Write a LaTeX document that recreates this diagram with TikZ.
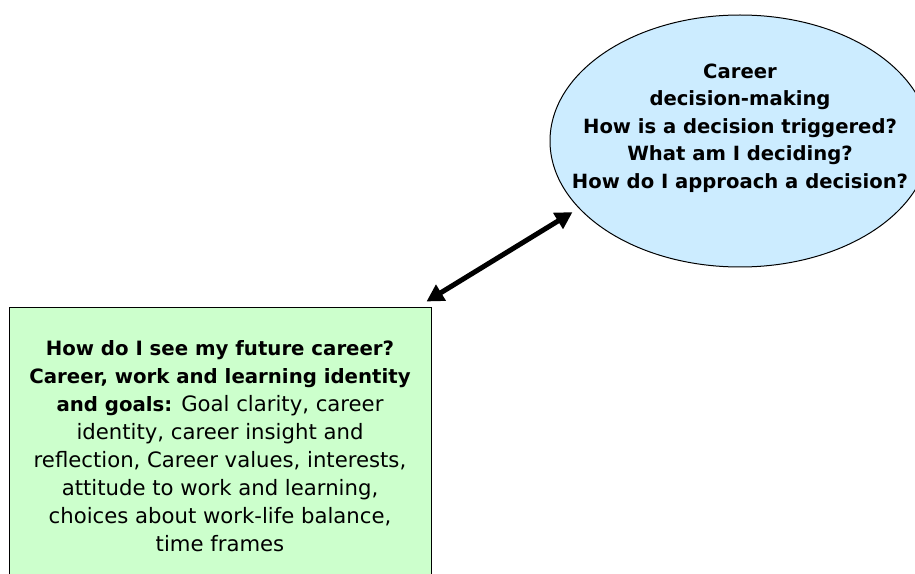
\documentclass[tikz,border=0pt]{standalone}
\usepackage{fontspec}
\setmainfont{DejaVu Sans}
\usetikzlibrary{shapes.geometric,arrows.meta}

\definecolor{decblue}{RGB}{204,236,255}
\definecolor{goalgreen}{RGB}{204,255,204}
\newcommand{\goalhead}[1]{{\bfseries\fontsize{14.8}{21}\selectfont #1}}
\tikzset{every picture/.style={line width=0.75pt}}

\begin{document}
\begin{tikzpicture}[x=0.75pt,y=0.75pt,yscale=-1,xscale=1]
	%set diagram left start at 0, and has height of 574
	\path[use as bounding box] (0,0) rectangle (915,574);
	
	%Shape: Ellipse [id:decision]
	\node[ellipse, draw, fill=decblue, minimum width=285pt, minimum height=189pt, inner sep=0pt] (dec) at (740,141) {};
	%Shape: Rectangle [id:goals]
	\node[draw, fill=goalgreen, minimum width=316.5pt, minimum height=207pt, inner sep=0pt] (goals) at (220,446) {};
	%Straight Lines [id:link]
	\draw[line width=3.75pt, {Triangle[length=12.75pt,width=13.5pt]}-{Triangle[length=12.75pt,width=13.5pt]}] ([shift={(-5,-6)}]goals.north east) -- ([shift={(-7,3)}]dec.203);
	
	% Text Node
	\node[align=center, font=\bfseries\fontsize{14.7}{20.6}\selectfont] (dectext) at (740,128) {Career\\decision-making\\How is a decision triggered?\\What am I deciding?\\How do I approach a decision?};
	% Text Node
	\node[align=center, font=\fontsize{15.9}{21}\selectfont] (goalstext) at (220,446) {\goalhead{How do I see my future career?}\\\goalhead{Career, work and learning identity}\\\goalhead{and goals:} Goal clarity, career\\identity, career insight and\\reflection, Career values, interests,\\attitude to work and learning,\\choices about work-life balance,\\time frames};
	
\end{tikzpicture}
\end{document}
